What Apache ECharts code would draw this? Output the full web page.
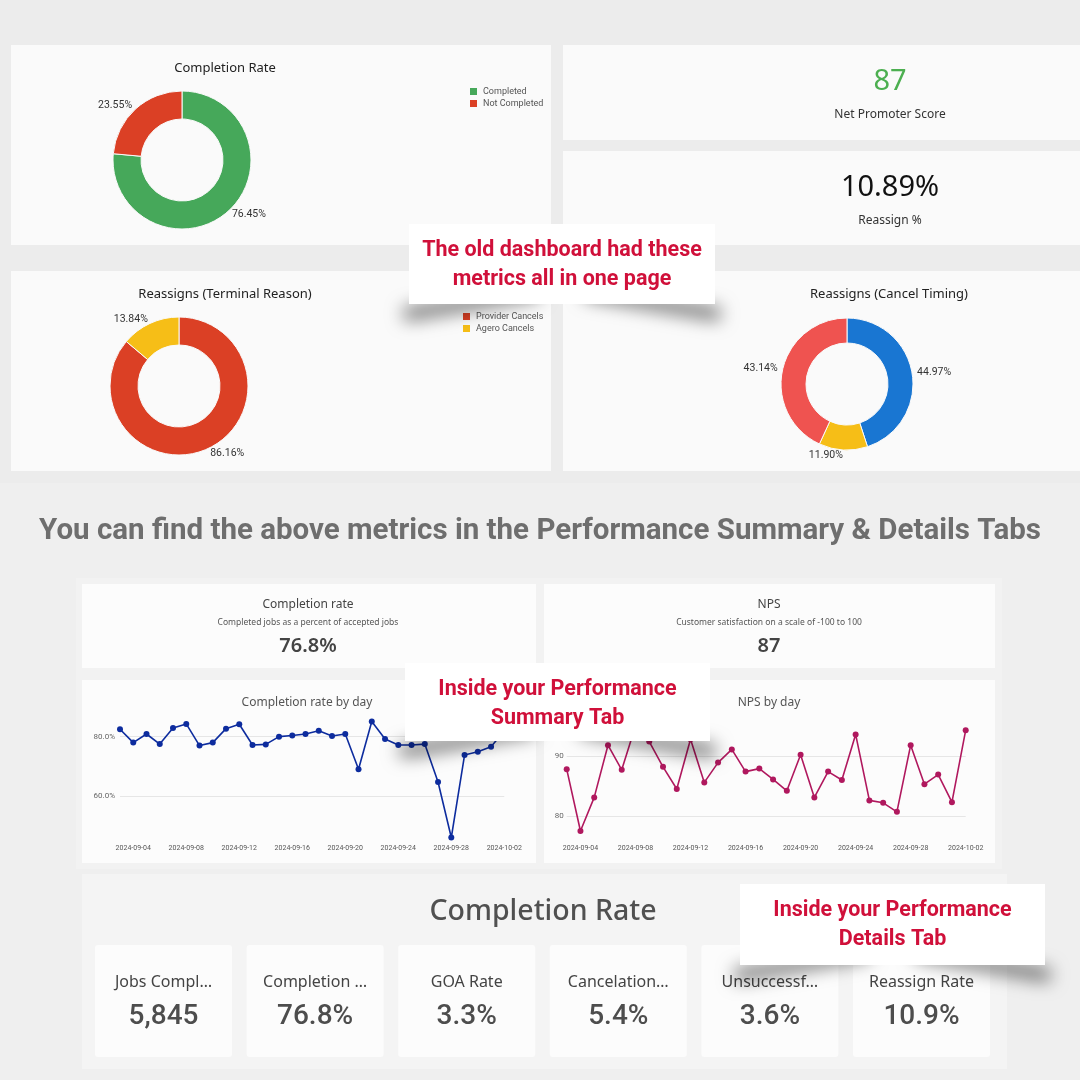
<!DOCTYPE html>
<html><head><meta charset="utf-8">
<script src="https://cdn.jsdelivr.net/npm/echarts@6/dist/echarts.min.js"></script>
<style>html,body{margin:0;padding:0;background:#efefef}#c{width:1080px;height:1080px}</style>
</head><body><div id="c"></div>
<script>
// ---------- data ----------
const days = ['2024-09-03','2024-09-04','2024-09-05','2024-09-06','2024-09-07','2024-09-08','2024-09-09','2024-09-10','2024-09-11','2024-09-12','2024-09-13','2024-09-14','2024-09-15','2024-09-16','2024-09-17','2024-09-18','2024-09-19','2024-09-20','2024-09-21','2024-09-22','2024-09-23','2024-09-24','2024-09-25','2024-09-26','2024-09-27','2024-09-28','2024-09-29','2024-09-30','2024-10-01','2024-10-02'];
const completionByDay = [82.5,78.0,80.9,77.5,82.9,84.3,77.0,78.0,82.7,84.2,77.2,77.4,80.0,80.4,80.9,82.0,80.2,80.9,69.0,85.1,79.2,77.2,77.2,77.5,64.7,46.0,73.8,74.9,76.6,82.0];
const npsByDay = [87.8,77.5,83.1,91.8,87.7,95.0,92.4,88.2,84.5,92.8,85.6,88.9,91.1,87.4,87.9,86.1,84.2,90.2,83.1,87.4,86.0,93.6,82.6,82.2,80.7,91.8,85.3,86.9,82.3,94.3];
const completionTicks = [60, 80];
const npsTicks = [80, 90];

const completionNames = ['Completed', 'Not Completed'];
const completionShares = [76.45, 23.55];
const terminalNames = ['Provider Cancels', 'Agero Cancels'];
const terminalShares = [86.16, 13.84];
const timingNames = ['Timing 1', 'Timing 2', 'Timing 3'];
const timingShares = [44.97, 11.90, 43.14];

const npsScore = '87';
const reassignPct = '10.89%';
const summaryCompletion = '76.8%';
const summaryNps = '87';

const tileLabels = ['Jobs Compl…', 'Completion …', 'GOA Rate', 'Cancelation…', 'Unsuccessf…', 'Reassign Rate'];
const tileValues = ['5,845', '76.8%', '3.3%', '5.4%', '3.6%', '10.9%'];

// ---------- helpers ----------
const SANS = 'Noto Sans', ROBO = 'Roboto';
function rect(x, y, w, h, fill, z, r) {
  return {type: 'rect', z: z || 0, silent: true, shape: {x, y, width: w, height: h, r: r || 0}, style: {fill}};
}
function txt(x, y, text, size, color, family, weight, z) {
  return {type: 'text', x, y, z: z || 1, silent: true,
    style: {text, fontSize: size, fontFamily: family || SANS, fontWeight: weight || 'normal', fill: color,
      align: 'center', verticalAlign: 'middle', textAlign: 'center', textVerticalAlign: 'middle'}};
}
function callout(L, T, R, B, lines) {
  const W = R - L, out = [];
  const w = 0.45 * W, h = 12;
  // lifted-corner shadows: tilted rects hidden behind the box, only their blurred shadow shows
  out.push({type: 'rect', z: 60, silent: true,
    shape: {x: L + 10, y: B - 30, width: w, height: h},
    originX: L + 10 + w / 2, originY: B - 24, rotation: 0.17,
    style: {fill: '#fff', shadowBlur: 18, shadowOffsetX: -16, shadowOffsetY: 23, shadowColor: 'rgba(0,0,0,0.6)'}});
  out.push({type: 'rect', z: 60, silent: true,
    shape: {x: R - 10 - w, y: B - 30, width: w, height: h},
    originX: R - 10 - w / 2, originY: B - 24, rotation: -0.17,
    style: {fill: '#fff', shadowBlur: 18, shadowOffsetX: 16, shadowOffsetY: 23, shadowColor: 'rgba(0,0,0,0.6)'}});
  out.push(rect(L, T, W, B - T, '#ffffff', 61));
  const cx = (L + R) / 2;
  lines.forEach((t, i) => out.push(txt(cx, T + 27 + i * 29, t, 21.5, '#D0103A', ROBO, 'bold', 62)));
  return out;
}

// ---------- static layout ----------
const graphics = [];
graphics.push(rect(0, 0, 1080, 483, '#ececec', 0));
graphics.push(rect(11, 45, 540, 200, '#fafafa', 0));
graphics.push(rect(563, 45, 517, 95, '#fafafa', 0));
graphics.push(rect(563, 151, 517, 94, '#fafafa', 0));
graphics.push(rect(11, 271, 540, 200, '#fafafa', 0));
graphics.push(rect(563, 271, 517, 200, '#fafafa', 0));
graphics.push(txt(225, 68, 'Completion Rate', 13, '#222'));
graphics.push(txt(225, 294, 'Reassigns (Terminal Reason)', 13, '#222'));
graphics.push(txt(889, 294, 'Reassigns (Cancel Timing)', 13, '#222'));
graphics.push(txt(890, 82, npsScore, 29, '#4CAF50'));
graphics.push(txt(890, 115, 'Net Promoter Score', 12, '#333'));
graphics.push(txt(890, 188, reassignPct, 29, '#111'));
graphics.push(txt(890, 221, 'Reassign %', 12, '#333'));

graphics.push(txt(540, 532, 'You can find the above metrics in the Performance Summary & Details Tabs', 29.5, '#6e6e6e', ROBO, 'bold'));

graphics.push(rect(76, 578, 926, 291, '#f2f2f2', 0));
graphics.push(rect(82, 584, 454, 84, '#fcfcfc', 0));
graphics.push(rect(544, 584, 451, 84, '#fcfcfc', 0));
graphics.push(rect(82, 680, 454, 183, '#fcfcfc', 0));
graphics.push(rect(544, 680, 451, 183, '#fcfcfc', 0));
graphics.push(txt(308, 605, 'Completion rate', 12, '#444'));
graphics.push(txt(308, 623, 'Completed jobs as a percent of accepted jobs', 8.5, '#555'));
graphics.push(txt(308, 646, summaryCompletion, 20, '#444', SANS, 600));
graphics.push(txt(769, 605, 'NPS', 12, '#444'));
graphics.push(txt(769, 623, 'Customer satisfaction on a scale of -100 to 100', 8.5, '#555'));
graphics.push(txt(769, 646, summaryNps, 20, '#444', SANS, 600));
graphics.push(txt(307, 703, 'Completion rate by day', 12, '#555'));
graphics.push(txt(769, 703, 'NPS by day', 12, '#555'));

graphics.push(rect(82, 874, 925, 195, '#f4f4f4', 0));
graphics.push(txt(543, 912, 'Completion Rate', 28.5, '#505050', SANS, 500));
tileLabels.forEach((lab, i) => {
  const x = 95 + i * 151.6;
  graphics.push(rect(x, 945, 137, 112, '#fcfcfc', 0, 3));
  graphics.push(txt(x + 68.5, 982.5, lab, 16, '#444'));
  graphics.push(txt(x + 68.5, 1016.5, tileValues[i], 28, '#4d4d4d', ROBO, 500));
});

callout(409, 224, 715, 304, ['The old dashboard had these', 'metrics all in one page']).forEach(g => graphics.push(g));
callout(405, 663, 710, 741, ['Inside your Performance', 'Summary Tab']).forEach(g => graphics.push(g));
callout(740, 884, 1045, 965, ['Inside your Performance', 'Details Tab']).forEach(g => graphics.push(g));

// ---------- chart ----------
function pieSeries(center, radius, names, values, colors) {
  return {
    type: 'pie', center, radius, startAngle: 90, clockwise: true, avoidLabelOverlap: false,
    silent: true,
    itemStyle: {borderColor: '#fafafa', borderWidth: 1},
    label: {show: true, position: 'outside', distanceToLabelLine: 0, fontSize: 10.5, color: '#333', fontFamily: ROBO,
      formatter: p => p.value.toFixed(2) + '%'},
    labelLine: {show: false, length: 5, length2: 0},
    emphasis: {disabled: true},
    data: names.map((n, i) => ({name: n, value: values[i], itemStyle: {color: colors[i]}}))
  };
}
const xLabelInterval = (idx) => (idx - 1) % 4 === 0;
function xAxisCfg(gi, margin) {
  return {type: 'category', gridIndex: gi, data: days, boundaryGap: false,
    axisLine: {show: false}, axisTick: {show: false},
    axisLabel: {interval: xLabelInterval, margin, fontSize: 7, color: '#555', fontFamily: ROBO, hideOverlap: false}};
}
function yAxisCfg(gi, min, max, ticks, fmt, margin) {
  return {type: 'value', gridIndex: gi, min, max,
    axisLine: {show: false},
    axisTick: {show: false, customValues: ticks},
    axisLabel: {customValues: ticks, formatter: fmt, fontSize: 8, color: '#666', fontFamily: ROBO, margin},
    splitLine: {show: true, lineStyle: {color: '#e6e6e6', width: 1}}};
}
const legendText = {fontSize: 9, color: '#555', fontFamily: ROBO};

const option = {
  animation: false,
  backgroundColor: '#efefef',
  graphic: {elements: graphics},
  legend: [
    {data: completionNames, orient: 'vertical', left: 463, top: 81, itemWidth: 9, itemHeight: 9, itemGap: 1, icon: 'rect',
      selectedMode: false, textStyle: legendText},
    {data: terminalNames, orient: 'vertical', left: 456, top: 306, itemWidth: 9, itemHeight: 9, itemGap: 1, icon: 'rect',
      selectedMode: false, textStyle: legendText}
  ],
  grid: [
    {left: 120, top: 715.9, width: 384.3, height: 124.6, containLabel: false, outerBoundsMode: 'none'},
    {left: 566.7, top: 726, width: 399, height: 108, containLabel: false, outerBoundsMode: 'none'}
  ],
  xAxis: [xAxisCfg(0, 4.5), xAxisCfg(1, 11)],
  yAxis: [
    yAxisCfg(0, 45, 87, completionTicks, v => v.toFixed(1) + '%', 5),
    yAxisCfg(1, 77, 95, npsTicks, v => String(v), 3)
  ],
  series: [
    pieSeries([182, 160], [41, 69], completionNames, completionShares, ['#46A85A', '#DB4025']),
    pieSeries([179, 386], [41, 69], terminalNames, terminalShares, ['#DB4025', '#F6BE17']),
    pieSeries([847, 384], [41, 66], timingNames, timingShares, ['#1976D2', '#F6BE17', '#EF5350']),
    {type: 'line', xAxisIndex: 0, yAxisIndex: 0, data: completionByDay, symbol: 'circle', symbolSize: 6, showAllSymbol: true,
      silent: true, lineStyle: {color: '#0D2C9E', width: 1.6}, itemStyle: {color: '#0D2C9E'}},
    {type: 'line', xAxisIndex: 1, yAxisIndex: 1, data: npsByDay, symbol: 'circle', symbolSize: 6, showAllSymbol: true,
      silent: true, lineStyle: {color: '#B0185E', width: 1.6}, itemStyle: {color: '#B0185E'}}
  ]
};
const chart = echarts.init(document.getElementById('c'), null, {renderer: 'canvas'});
chart.setOption(option);
</script>
</body></html>
